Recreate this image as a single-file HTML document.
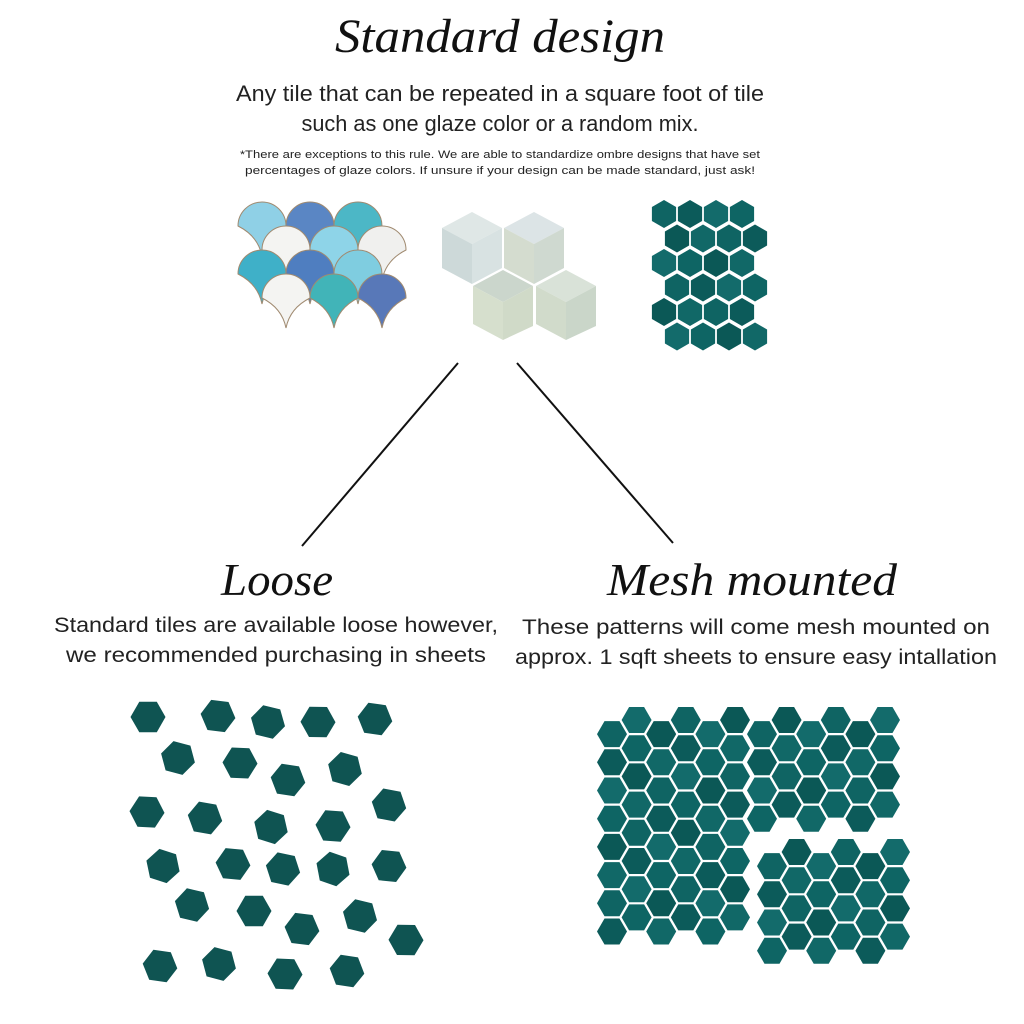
<!DOCTYPE html>
<html><head><meta charset="utf-8"><style>
html,body{margin:0;padding:0;background:#fff}
svg{display:block}
.scr{font-family:"Liberation Serif",serif;font-style:italic;fill:#111}
.t{font-family:"Liberation Sans",sans-serif;fill:#222}
</style></head><body>
<svg id="s" width="1024" height="1024" viewBox="0 0 1024 1024" xmlns="http://www.w3.org/2000/svg">
<rect width="1024" height="1024" fill="#fff"/>
<text class="scr" x="500" y="52" font-size="48" text-anchor="middle" textLength="330" lengthAdjust="spacingAndGlyphs">Standard design</text>
<text class="t" x="500" y="101" font-size="22" text-anchor="middle" textLength="528" lengthAdjust="spacingAndGlyphs">Any tile that can be repeated in a square foot of tile</text>
<text class="t" x="500" y="131" font-size="22" text-anchor="middle" textLength="397" lengthAdjust="spacingAndGlyphs">such as one glaze color or a random mix.</text>
<text class="t" x="500" y="158" font-size="11" text-anchor="middle" textLength="520" lengthAdjust="spacingAndGlyphs">*There are exceptions to this rule. We are able to standardize ombre designs that have set</text>
<text class="t" x="500" y="174" font-size="11" text-anchor="middle" textLength="510" lengthAdjust="spacingAndGlyphs">percentages of glaze colors. If unsure if your design can be made standard, just ask!</text>
<line x1="458" y1="363" x2="302" y2="546" stroke="#111" stroke-width="2"/>
<line x1="517" y1="363" x2="673" y2="543" stroke="#111" stroke-width="2"/>
<text class="scr" x="277" y="595" font-size="46" text-anchor="middle" textLength="112" lengthAdjust="spacingAndGlyphs">Loose</text>
<text class="scr" x="752" y="595" font-size="46" text-anchor="middle" textLength="290" lengthAdjust="spacingAndGlyphs">Mesh mounted</text>
<text class="t" x="276" y="632" font-size="21" text-anchor="middle" textLength="444" lengthAdjust="spacingAndGlyphs">Standard tiles are available loose however,</text>
<text class="t" x="276" y="662" font-size="21" text-anchor="middle" textLength="420" lengthAdjust="spacingAndGlyphs">we recommended purchasing in sheets</text>
<text class="t" x="756" y="634" font-size="21" text-anchor="middle" textLength="468" lengthAdjust="spacingAndGlyphs">These patterns will come mesh mounted on</text>
<text class="t" x="756" y="664" font-size="21" text-anchor="middle" textLength="482" lengthAdjust="spacingAndGlyphs">approx. 1 sqft sheets to ensure easy intallation</text>
<g id="fish"></g>
<g id="cube">
<polygon points="442,228 472,212 502,228 472,244" fill="#dfe7e6"/>
<polygon points="442,228 472,244 472,284 442,268" fill="#cdd9d9"/>
<polygon points="472,244 502,228 502,268 472,284" fill="#d8e2e2"/>
<polygon points="504,228 534,212 564,228 534,244" fill="#dce4e6"/>
<polygon points="504,228 534,244 534,284 504,268" fill="#d4dccf"/>
<polygon points="534,244 564,228 564,268 534,284" fill="#cfd9d0"/>
<polygon points="473,286 503,270 533,286 503,302" fill="#cbd6cc"/>
<polygon points="473,286 503,302 503,340 473,324" fill="#d6dfcd"/>
<polygon points="503,302 533,286 533,326 503,340" fill="#d0dac8"/>
<polygon points="536,286 566,270 596,286 566,302" fill="#d9e2d8"/>
<polygon points="536,286 566,302 566,340 536,324" fill="#d1dbcb"/>
<polygon points="566,302 596,286 596,326 566,340" fill="#cad6c9"/>
</g>
<g id="hx"></g>
</svg>
<script>
var NS="http://www.w3.org/2000/svg",g=document.getElementById('hx');
function hex(cx,cy,r,rot,fill){var p=[];for(var i=0;i<6;i++){var a=(rot+60*i)*Math.PI/180;p.push((cx+r*Math.cos(a)).toFixed(1)+","+(cy+r*Math.sin(a)).toFixed(1));}
var e=document.createElementNS(NS,'polygon');e.setAttribute('points',p.join(' '));e.setAttribute('fill',fill);g.appendChild(e);}
var cols=["#0f6463","#0c5b5a","#136b6b","#0e6564","#0b5856","#116867"];
function c(i){return cols[(i*7)%cols.length];}
var k=0;
for(var r=0;r<6;r++){for(var q=0;q<4;q++){var x=664+q*26+(r%2?13:0),y=214+r*24.5;hex(x,y,14,30,c(k++));}}
var L=[[148,717],[218,716],[268,722],[318,722],[375,719],[178,758],[240,763],[288,780],[345,769],[147,812],[205,818],[271,827],[333,826],[389,805],[163,866],[233,864],[283,869],[333,869],[389,866],[192,905],[254,911],[302,929],[360,916],[406,940],[160,966],[219,964],[285,974],[347,971]];
L.forEach(function(p,i){hex(p[0],p[1],17.5,(i*7)%20,"#0f5452");});
function sheet(x0,y0,nc,nr){for(var q=0;q<nc;q++){for(var r=0;r<nr;r++){var x=x0+q*24.6,y=y0+r*28.2+(q%2?0:14.1);hex(x,y,15,0,c(k++));}}}
sheet(612,720,6,8);
sheet(762,720,6,4);
sheet(772,852,6,4);
var f=document.getElementById('fish');
var fc=[["#8fd0e6","#5a86c4","#4cb7c6"],["#f4f4f2","#8ed4e8","#f0f0ee"],["#3fb0c8","#4f7ec0","#7fcde0"],["#f4f4f2","#41b4b8","#5878b8"]];
for(var r=0;r<4;r++){for(var i=0;i<3;i++){var cx=262+i*48+(r%2?24:0),cy=222+r*24;
var e=document.createElementNS(NS,'path');
e.setAttribute('d','M'+(cx-24)+','+(cy+4)+' A24,24 0 0 1 '+(cx+24)+','+(cy+4)+' Q'+(cx+4)+','+(cy+14)+' '+cx+','+(cy+34)+' Q'+(cx-4)+','+(cy+14)+' '+(cx-24)+','+(cy+4)+'Z');
e.setAttribute('fill',fc[r][i]);e.setAttribute('stroke','#a08a70');e.setAttribute('stroke-width','1');f.appendChild(e);}}
</script>
</body></html>
